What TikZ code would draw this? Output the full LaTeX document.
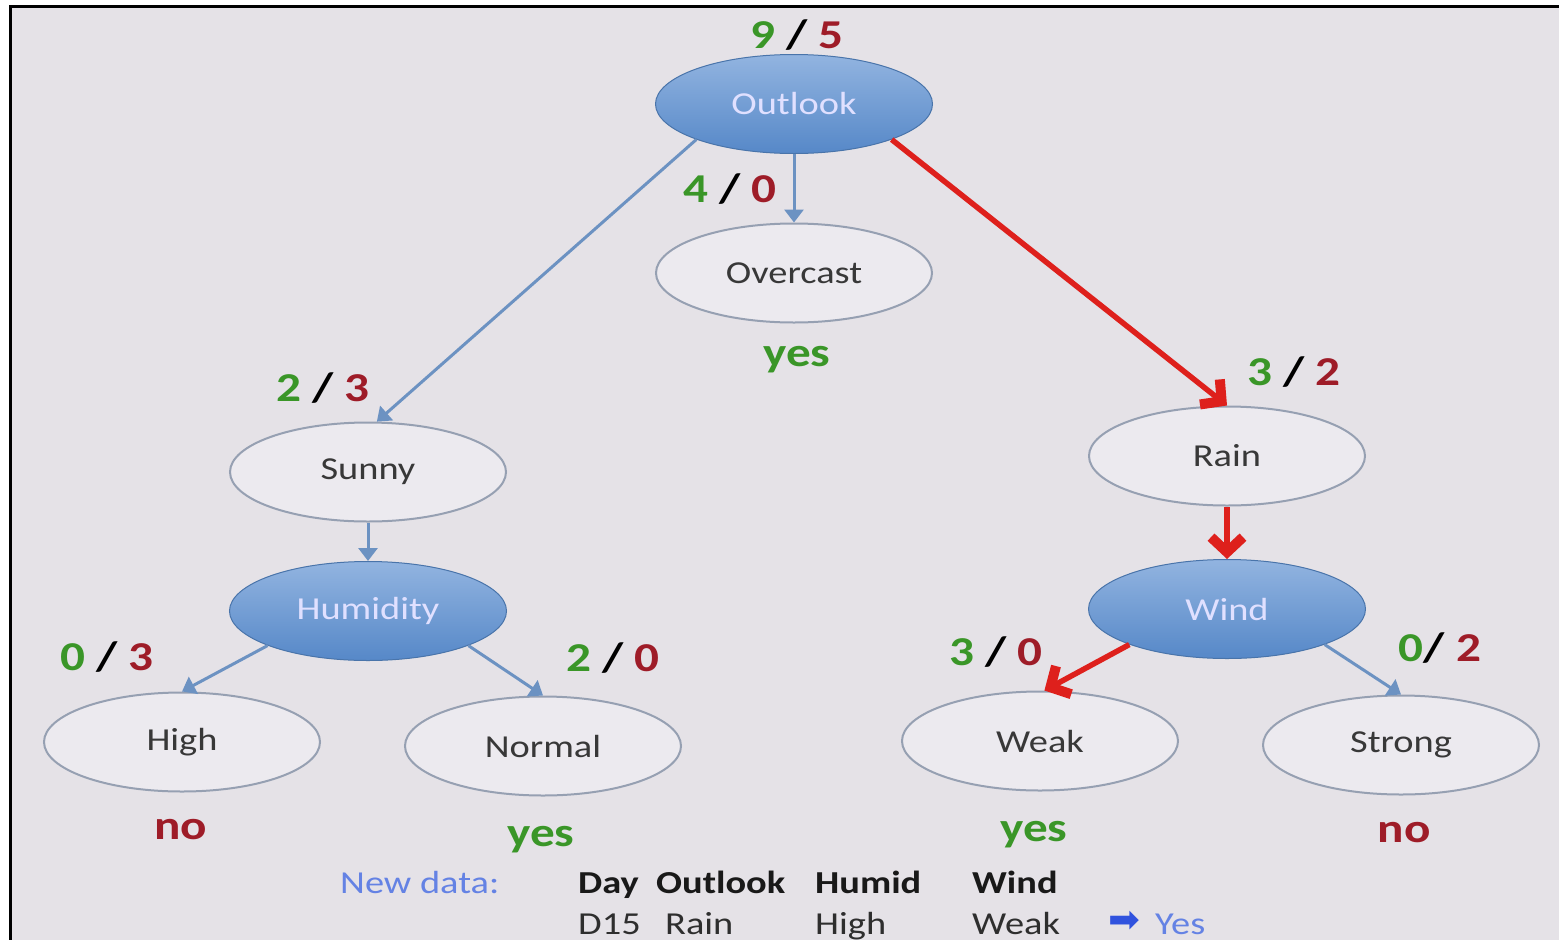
\documentclass[tikz,border=0pt]{standalone}
\usepackage{fontspec}
\setmainfont{Carlito}[FakeStretch=1.2]
\newfontfamily\symfont{DejaVu Sans}
\usetikzlibrary{shapes.geometric,arrows.meta}

\definecolor{bg}{RGB}{229,226,231}
\definecolor{nodeline}{RGB}{150,160,178}
\definecolor{nodefill}{RGB}{236,234,239}
\definecolor{bluetop}{RGB}{146,180,224}
\definecolor{bluebot}{RGB}{86,136,200}
\definecolor{edgeblue}{RGB}{108,146,194}
\definecolor{edgered}{RGB}{222,32,28}
\definecolor{cntgreen}{RGB}{58,150,40}
\definecolor{cntred}{RGB}{158,28,40}
\definecolor{newblue}{RGB}{100,130,228}
\definecolor{arrowblue}{RGB}{48,82,222}

% green count / red count
\newcommand\cnt[3][\ ]{\textcolor{cntgreen}{#2}#1/\ \textcolor{cntred}{#3}}

\begin{document}
\begin{tikzpicture}[x=1pt,y=-1pt,
  leaf/.style={ellipse, draw=nodeline, line width=2pt, fill=nodefill,
    minimum width=276pt, minimum height=99pt, inner sep=0pt,
    font=\fontsize{32}{36}\selectfont, text=black!78},
  attr/.style={ellipse, draw=bluebot!85!black, line width=1pt,
    top color=bluetop, bottom color=bluebot,
    minimum width=277pt, minimum height=99pt, inner sep=0pt,
    font=\fontsize{32}{36}\selectfont, text=white!88!blue},
  blueedge/.style={draw=edgeblue, line width=3pt, -{Triangle[length=13pt,width=19pt]}},
  rededge/.style={draw=edgered, line width=5.5pt,
    -{Straight Barb[length=15pt,width=32pt,line width=10pt]}},
  count/.style={font=\fontsize{41}{44}\selectfont\bfseries, inner sep=0pt},
  yesno/.style={font=\fontsize{41}{44}\selectfont\bfseries, inner sep=0pt},
  tab/.style={font=\fontsize{32}{36}\selectfont, anchor=base west, inner sep=0pt, text=black!82},
  tabhead/.style={tab, font=\fontsize{32}{36}\selectfont\bfseries, text=black!90},
]
\useasboundingbox (0,0) rectangle (1559,940);
\fill[white] (0,0) rectangle (1559,940);
\fill[bg] (9,5) rectangle (1559,940);
\draw[black, line width=3pt] (10,940) -- (10,6) -- (1559,6);

% tree nodes
\node[attr] (outlook)  at (794,104) {Outlook};
\node[leaf] (overcast) at (794,273) {Overcast};
\node[leaf] (sunny)    at (368,472) {Sunny};
\node[attr] (humidity) at (368,611) {Humidity};
\node[leaf] (high)     at (182,742) {High};
\node[leaf] (normal)   at (543,746) {Normal};
\node[leaf] (rain)     at (1227,456) {Rain};
\node[attr] (wind)     at (1227,609) {Wind};
\node[leaf] (weak)     at (1040,741) {Weak};
\node[leaf] (strong)   at (1401,745) {Strong};

% branches
\draw[blueedge] (outlook.200) -- (sunny.80);
\draw[blueedge] (outlook.south) -- (overcast.north);
\draw[rededge]  (outlook.340) -- (rain.north);
\draw[blueedge] (sunny.south) -- (humidity.north);
\draw[blueedge] (humidity.199) -- (high.north);
\draw[blueedge] (humidity.341) -- (normal.north);
\draw[rededge]  (rain.south) -- (wind.north);
\draw[rededge]  (wind.200) -- (weak.85);
\draw[blueedge] (wind.340) -- (strong.north);

% class counts
\node[count] (c-outlook)  at (797,35)   {\cnt{9}{5}};
\node[count] (c-overcast) at (730,189)  {\cnt{4}{0}};
\node[count] (c-sunny)    at (323,388)  {\cnt{2}{3}};
\node[count] (c-rain)     at (1294,372) {\cnt{3}{2}};
\node[count] (c-high)     at (107,657)  {\cnt{0}{3}};
\node[count] (c-normal)   at (613,658)  {\cnt{2}{0}};
\node[count] (c-weak)     at (996,652)  {\cnt{3}{0}};
\node[count] (c-strong)   at (1440,648) {\cnt[]{0}{2}};

% decisions
\node[yesno, text=cntgreen] (d-overcast) at (797,360) {yes};
\node[yesno, text=cntred]   (d-high)     at (181,830) {no};
\node[yesno, text=cntgreen] (d-normal)   at (541,840) {yes};
\node[yesno, text=cntgreen] (d-weak)     at (1034,835) {yes};
\node[yesno, text=cntred]   (d-strong)   at (1404,833) {no};

% new sample
\node[tab, text=newblue] (newdata) at (340,893) {New data:};
\node[tabhead] (h-day)     at (578,893) {Day};
\node[tabhead] (h-outlook) at (656,893) {Outlook};
\node[tabhead] (h-humid)   at (815,893) {Humid};
\node[tabhead] (h-wind)    at (972,893) {Wind};
\node[tab] (v-day)     at (578,934) {D15};
\node[tab] (v-outlook) at (665,934) {Rain};
\node[tab] (v-humid)   at (815,934) {High};
\node[tab] (v-wind)    at (972,934) {Weak};
\node[tab, text=arrowblue, font=\fontsize{38}{40}\symfont] (v-arrow) at (1108,932) {➡};
\node[tab, text=newblue] (v-result) at (1155,934) {Yes};
\end{tikzpicture}
\end{document}
